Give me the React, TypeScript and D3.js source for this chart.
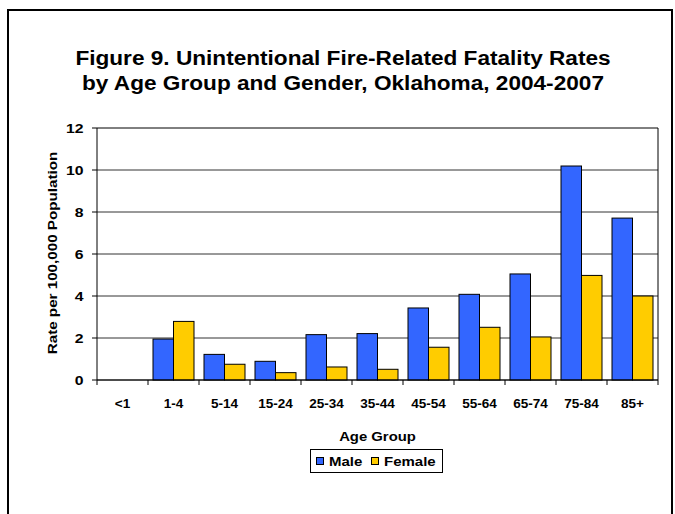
import React from "react";
import * as d3 from "d3";

const categories = ["<1", "1-4", "5-14", "15-24", "25-34", "35-44", "45-54", "55-64", "65-74", "75-84", "85+"];
const maleValues = [0, 1.95, 1.22, 0.89, 2.16, 2.21, 3.43, 4.08, 5.05, 10.19, 7.71];
const femaleValues = [0, 2.79, 0.75, 0.35, 0.62, 0.51, 1.56, 2.51, 2.05, 4.98, 4.0];
const seriesNames = ["Male", "Female"];
const seriesColors = ["#3366FF", "#FFCC00"];
const yTicks = [0, 2, 4, 6, 8, 10, 12];
const titleLines = [
  "Figure 9. Unintentional Fire-Related Fatality Rates",
  "by Age Group and Gender, Oklahoma, 2004-2007",
];

const W = 675;
const H = 514;
const FONT = "'Liberation Sans', Arial, Helvetica, sans-serif";
const S = 1.17;

function T(props: { x: number; y: number; size: number; anchor?: string; rotate?: number; sx?: number; children: React.ReactNode }) {
  const { x, y, size, anchor = "start", rotate = 0, sx = S, children } = props;
  return (
    <text
      transform={`translate(${x},${y})${rotate ? ` rotate(${rotate})` : ""} scale(${sx},1)`}
      textAnchor={anchor}
      fontSize={size}
      fontWeight="bold"
      fill="#000"
    >
      {children}
    </text>
  );
}

export default function App() {
  const left = 97, right = 658, top = 128, bottom = 380;
  const x0 = d3.scaleBand<string>().domain(categories).range([left, right]).padding(0);
  const x1 = d3.scaleBand<string>().domain(seriesNames).range([0, x0.bandwidth()]).paddingInner(0).paddingOuter(0.244);
  const y = d3.scaleLinear().domain([0, 12]).range([bottom, top]);
  const series = [maleValues, femaleValues];

  return (
    <svg width={W} height={H} style={{ position: "absolute", left: 0, top: 0, fontFamily: FONT }}>
      <rect x={0} y={0} width={W} height={H} fill="#fff" />
      <rect x={8} y={10} width={664} height={H + 20} fill="none" stroke="#000" strokeWidth={2} />
      {titleLines.map((t, i) => (
        <T key={i} x={343} y={64.5 + i * 25} size={19.5} anchor="middle" sx={1.16}>
          {t}
        </T>
      ))}
      {/* gridlines */}
      {yTicks.map((t) => (
        <line key={t} x1={left} x2={right} y1={y(t)} y2={y(t)} stroke={t === 12 ? "#000" : "#333"} strokeWidth={1} />
      ))}
      <line x1={right} x2={right} y1={top} y2={bottom} stroke="#000" strokeWidth={1} />
      {/* bars */}
      {categories.map((c, i) =>
        series.map((vals, s) =>
          vals[i] > 0 ? (
            <rect
              key={c + s}
              x={(x0(c) as number) + (x1(seriesNames[s]) as number)}
              y={y(vals[i])}
              width={x1.bandwidth()}
              height={y(0) - y(vals[i])}
              fill={seriesColors[s]}
              stroke="#000"
              strokeWidth={1}
            />
          ) : null
        )
      )}
      {/* axes */}
      <line x1={left} x2={left} y1={top} y2={bottom} stroke="#000" strokeWidth={1} />
      <line x1={left} x2={right} y1={bottom} y2={bottom} stroke="#000" strokeWidth={1} />
      {yTicks.map((t) => (
        <g key={"yt" + t}>
          <line x1={left - 5} x2={left} y1={y(t)} y2={y(t)} stroke="#000" />
          <T x={left - 13.5} y={y(t) + 4.8} size={13.5} anchor="end">
            {t}
          </T>
        </g>
      ))}
      {categories.map((c) => (
        <line key={"xt" + c} x1={x0(c) as number} x2={x0(c) as number} y1={bottom} y2={bottom + 5} stroke="#000" />
      ))}
      <line x1={right} x2={right} y1={bottom} y2={bottom + 5} stroke="#000" />
      {categories.map((c) => (
        <T key={"xl" + c} x={(x0(c) as number) + x0.bandwidth() / 2} y={408} size={12} anchor="middle" sx={1.13}>
          {c}
        </T>
      ))}
      <T x={(left + right) / 2} y={440.5} size={12.5} anchor="middle" sx={1.19}>
        Age Group
      </T>
      <T x={57} y={253} size={13} anchor="middle" rotate={-90}>
        Rate per 100,000 Population
      </T>
      {/* legend */}
      <rect x={310.5} y={449.5} width={132} height={23} fill="#fff" stroke="#000" strokeWidth={1} />
      {seriesNames.map((n, i) => {
        const sx = i === 0 ? 316 : 371;
        return (
          <g key={n}>
            <rect x={sx + 0.5} y={457.5} width={7} height={7} fill={seriesColors[i]} stroke="#000" />
            <T x={sx + 13} y={465.5} size={12.5} sx={1.2}>
              {n}
            </T>
          </g>
        );
      })}
    </svg>
  );
}
